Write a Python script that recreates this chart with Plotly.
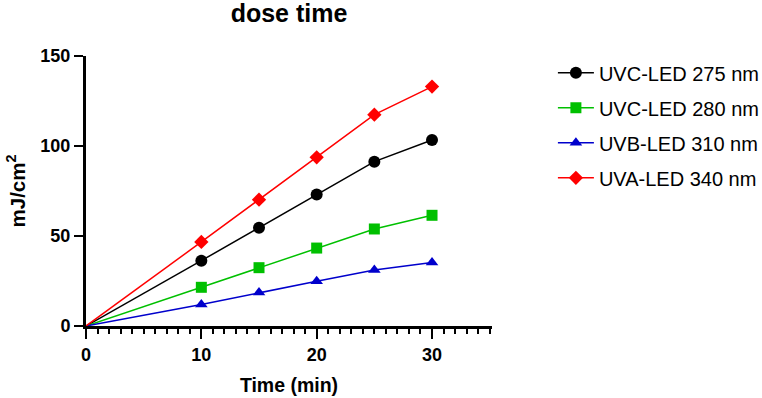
import plotly.graph_objects as go

times = [0, 10, 15, 20, 25, 30]
uvc275 = [0, 36.3, 54.6, 73.0, 91.3, 103.3]
uvc280 = [0, 21.5, 32.4, 43.3, 53.9, 61.5]
uvb310 = [0, 12.0, 18.6, 24.8, 31.1, 35.3]
uva340 = [0, 46.7, 70.2, 93.7, 117.4, 133.0]

series = [
    ("UVC-LED 275 nm", uvc275, "black", "circle", 12),
    ("UVC-LED 280 nm", uvc280, "#00c000", "square", 11),
    ("UVB-LED 310 nm", uvb310, "#0000cc", "triangle-up", 11),
    ("UVA-LED 340 nm", uva340, "red", "diamond", 11),
]

FONT = "Arial, Liberation Sans, sans-serif"
fig = go.Figure()
for i, (name, vals, color, sym, sz) in enumerate(series):
    grp = f"g{i}"
    # line from origin (no marker at origin)
    fig.add_trace(go.Scatter(x=times[:2], y=vals[:2], mode="lines",
                             line=dict(color=color, width=1.5), legendgroup=grp,
                             showlegend=False, hoverinfo="skip"))
    fig.add_trace(go.Scatter(x=times[1:], y=vals[1:], mode="lines+markers", name=name,
                             legendgroup=grp,
                             line=dict(color=color, width=1.5),
                             marker=dict(color=color, symbol=sym, size=sz)))

fig.update_layout(
    width=762, height=398,
    margin=dict(l=86, r=270, t=56, b=72, autoexpand=False),
    paper_bgcolor="white", plot_bgcolor="white",
    font=dict(family=FONT, color="black"),
    title=dict(text="<b>dose time</b>", xref="paper", x=0.5, xanchor="center",
               y=0.967, yanchor="middle",
               font=dict(size=25, family=FONT, color="black")),
    legend=dict(x=1.15, y=1.01, xanchor="left", yanchor="top",
                font=dict(size=20, family=FONT, color="black"),
                tracegroupgap=6, itemwidth=36),
    showlegend=True,
)
fig.update_xaxes(
    range=[0, 35.2], tickvals=[0, 10, 20, 30], showgrid=False, zeroline=False,
    showline=True, linecolor="black", linewidth=3, automargin=False,
    ticks="outside", ticklen=10, tickwidth=2, tickcolor="black",
    tickfont=dict(size=18, family=FONT, color="black", weight="bold"),
    minor=dict(dtick=1, ticks="outside", ticklen=5, tickwidth=2, tickcolor="black"),
    title=dict(text="<b>Time (min)</b>", font=dict(size=19.5, family=FONT, color="black"), standoff=15),
)
fig.update_yaxes(
    range=[0, 150], tickvals=[0, 50, 100, 150], showgrid=False, zeroline=False,
    showline=True, linecolor="black", linewidth=3, automargin=False,
    ticks="outside", ticklen=9, tickwidth=2, tickcolor="black",
    tickfont=dict(size=18, family=FONT, color="black", weight="bold"),
    title=dict(text="<b>mJ/cm<sup>2</sup></b>", font=dict(size=20.5, family=FONT, color="black"), standoff=10),
)
fig.write_html("out.html", config={"displayModeBar": False},
               post_script="document.body.style.margin='0';")
